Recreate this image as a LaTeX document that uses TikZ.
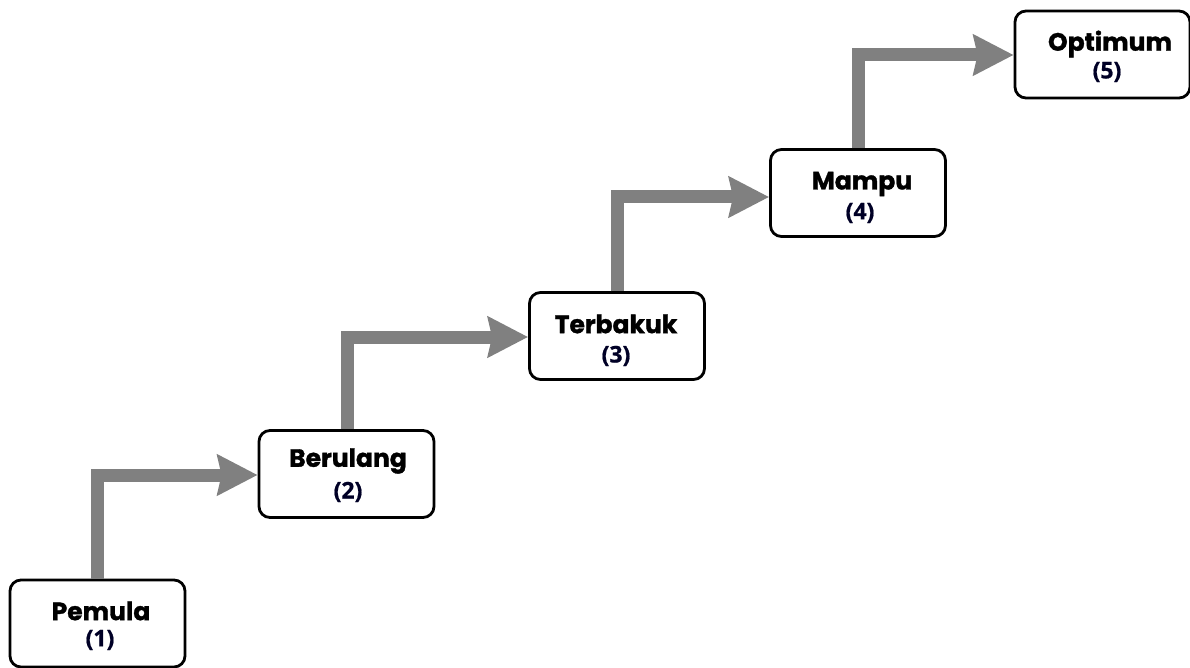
\documentclass[tikz,border=0pt]{standalone}
\usepackage{fontspec}
\setmainfont{Poppins}[BoldFeatures={FakeBold=1.3}]
\newfontfamily\numfont{Open Sans}[BoldFeatures={FakeBold=0.8}]
\usetikzlibrary{arrows.meta}
\begin{document}
\begin{tikzpicture}[x=1pt,y=-1pt,
  stage/.style={draw=black,line width=2.8pt,rounded corners=11pt,fill=white,minimum width=175pt,minimum height=87pt,inner sep=0pt},
  title/.style={font=\fontsize{25}{28}\selectfont\bfseries},
  num/.style={font=\numfont\fontsize{23}{26}\selectfont\bfseries,text=black!85!blue},
  flow/.style={draw=black!50,line width=13pt,-{Stealth[length=40pt,width=40pt,inset=4pt]}}]
\useasboundingbox (0,0) rectangle (1190,668);
\node[stage] (b1) at (97.5,623.5) {};
\node[stage] (b2) at (346.5,474) {};
\node[stage] (b3) at (617,336) {};
\node[stage] (b4) at (858,193) {};
\node[stage] (b5) at (1102.5,54.5) {};
\node[title] (t1) at (101,611) {Pemula};
\node[num] (n1) at (100,640) {(1)};
\node[title] (t2) at (348,461) {Berulang};
\node[num] (n2) at (348,492) {(2)};
\node[title] (t3) at (616,324) {Terbakuk};
\node[num] (n3) at (616,356) {(3)};
\node[title] (t4) at (862,184) {Mampu};
\node[num] (n4) at (860,213) {(4)};
\node[title] (t5) at (1110,44) {Optimum};
\node[num] (n5) at (1107,72) {(5)};
\coordinate (c1) at (97.5,475);
\coordinate (c2) at (347,337);
\coordinate (c3) at (617,197);
\coordinate (c4) at (858,55);
\draw[flow] (b1.north -| c1) -- (c1) -- (c1 -| b2.west);
\draw[flow] (b2.north -| c2) -- (c2) -- (c2 -| b3.west);
\draw[flow] (b3.north -| c3) -- (c3) -- (c3 -| b4.west);
\draw[flow] (b4.north -| c4) -- (c4) -- (c4 -| b5.west);
\end{tikzpicture}
\end{document}
